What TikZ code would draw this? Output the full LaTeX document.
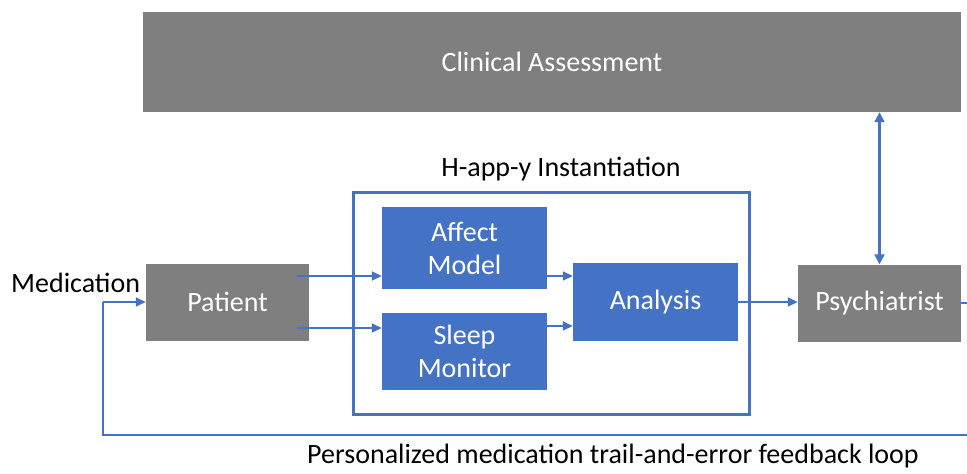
\documentclass[tikz,border=0pt]{standalone}
\usepackage{fontspec}
\setmainfont{Carlito}
\usetikzlibrary{arrows.meta,calc}
\definecolor{boxgray}{HTML}{7F7F7F}
\definecolor{boxblue}{HTML}{4472C4}
\tikzset{
  graybox/.style={fill=boxgray,draw=none,text=white,inner sep=0pt,font=\fontsize{28}{33}\selectfont,align=center},
  bluebox/.style={fill=boxblue,draw=none,text=white,inner sep=0pt,font=\fontsize{28}{33}\selectfont,align=center},
  lbl/.style={inner sep=0pt,font=\fontsize{28}{33}\selectfont,text=black},
  arr/.style={draw=boxblue,line width=1.6pt,-{Triangle[length=10pt,width=9pt]}},
  darr/.style={draw=boxblue,line width=2.2pt,{Triangle[length=10pt,width=10pt]}-{Triangle[length=10pt,width=10pt]}},
  loop/.style={draw=boxblue,line width=2.2pt},
}
\begin{document}
\begin{tikzpicture}[x=1pt,y=-1pt]
\useasboundingbox (0,0) rectangle (967,474);
% boxes
\node[graybox,minimum width=818pt,minimum height=100pt] (clin) at (552,62) {Clinical Assessment};
\node[graybox,minimum width=163pt,minimum height=77pt] (patient) at (227.5,302) {Patient};
\node[graybox,minimum width=163pt,minimum height=77pt] (psych) at (879.5,303) {Psychiatrist};
\node[bluebox,minimum width=165pt,minimum height=82pt] (affect) at (464.5,248) {Affect\\Model};
\node[bluebox,minimum width=165pt,minimum height=77pt] (sleep) at (464.5,351.5) {Sleep\\Monitor};
\node[bluebox,minimum width=165pt,minimum height=78pt] (analysis) at (655.5,302) {Analysis};
\node[draw=boxblue,line width=3pt,minimum width=396pt,minimum height=222pt,inner sep=0pt] (happy) at (551,303) {};
\node[lbl,anchor=base] (happytitle) at (561,176) {H-app-y Instantiation};
\node[lbl,anchor=base west] (med) at (11,292) {Medication};
\node[lbl,anchor=base west] (fb) at (307,463) {Personalized medication trail-and-error feedback loop};
% connectors
\draw[arr] ($(patient.east)+(-12,-26)$) coordinate (p1) -- (p1 -| affect.west);
\draw[arr] ($(patient.east)+(-12,26)$) coordinate (p2) -- (p2 -| sleep.west);
\draw[arr] ($(affect.east)+(0,28)$) coordinate (a1) -- (a1 -| analysis.west);
\draw[arr] ($(sleep.east)+(0,-25.5)$) coordinate (s1) -- (s1 -| analysis.west);
\draw[arr] (analysis.east) -- (analysis.east -| psych.west);
\draw[darr] (clin.south -| psych.north) -- (psych.north);
\coordinate (rightout) at (967,303);
\draw[draw=boxblue,line width=1.5pt] (psych.east) -- (rightout);
\coordinate (fbstart) at (967,435);
\coordinate (fbcorner) at (103,435);
\draw[loop] (fbstart) -- (fbcorner) -- (fbcorner |- patient.west);
\draw[arr] (fbcorner |- patient.west) -- (patient.west);
\end{tikzpicture}
\end{document}
